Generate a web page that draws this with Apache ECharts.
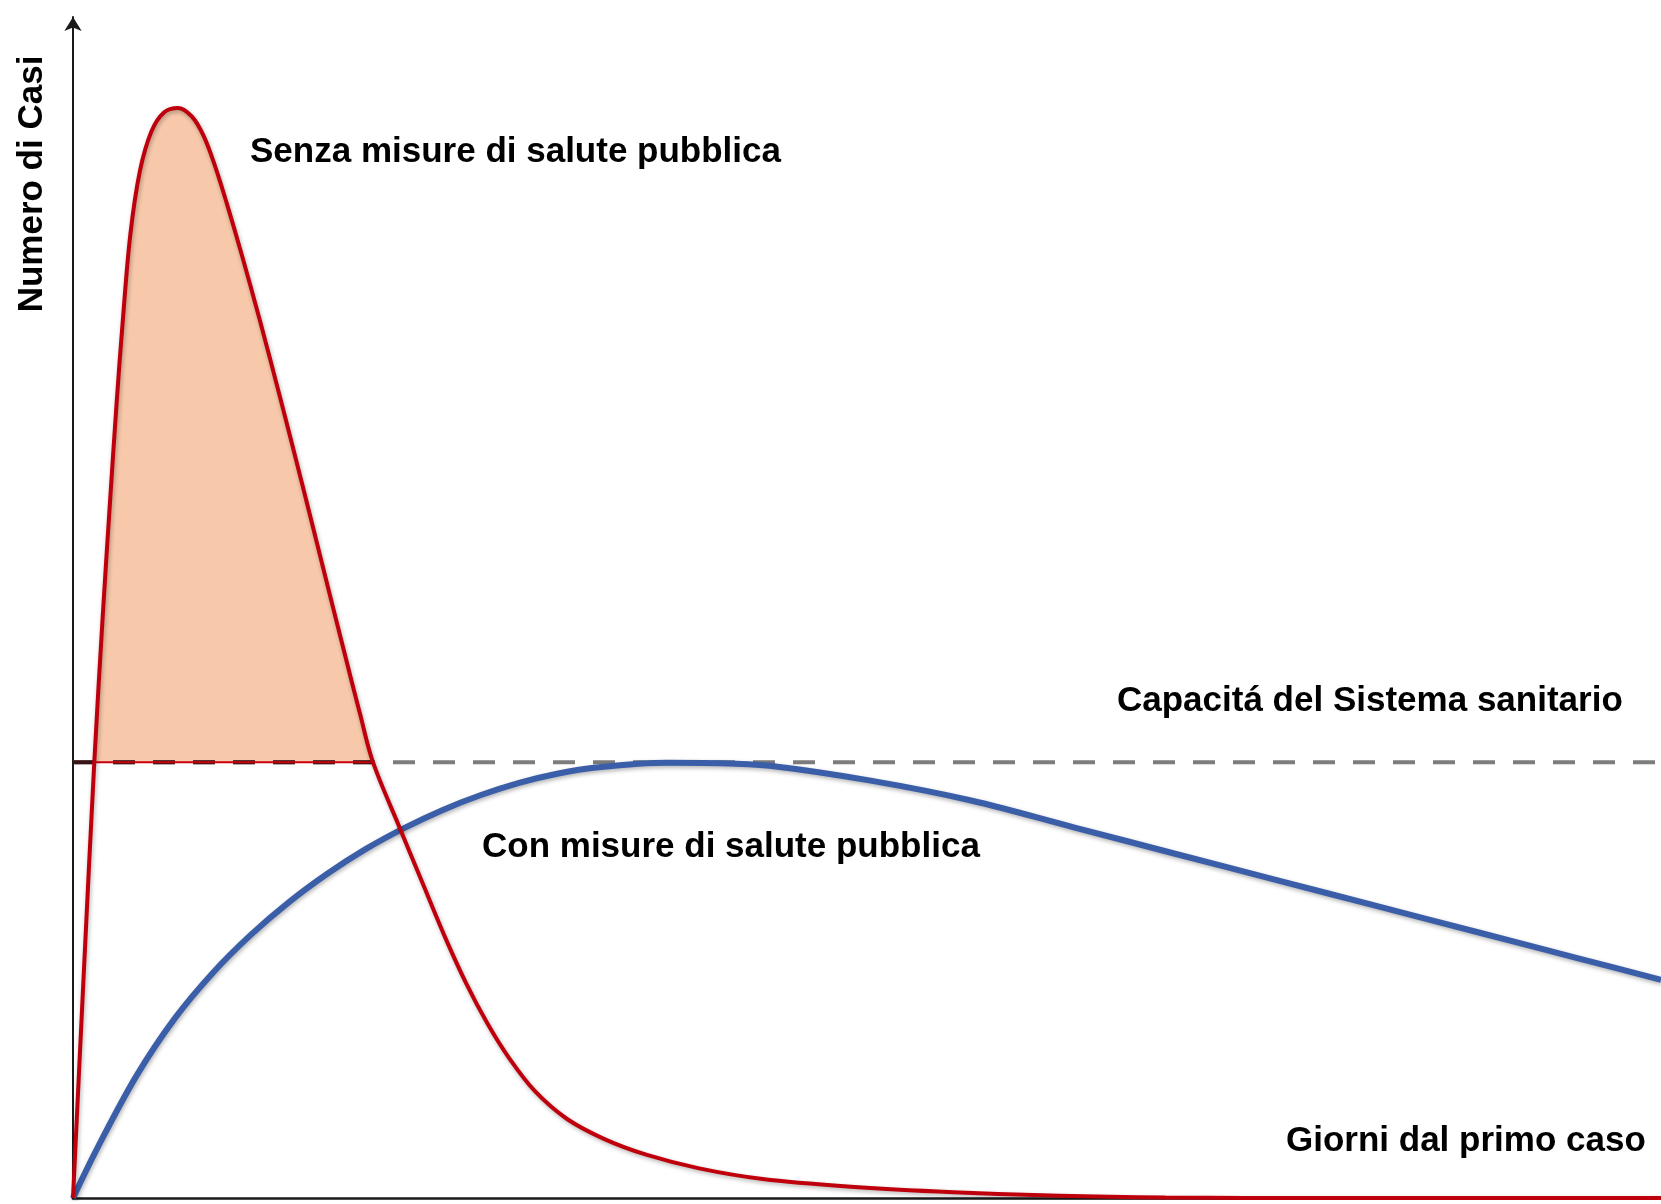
<!DOCTYPE html>
<html>
<head>
<meta charset="utf-8">
<script src="https://cdn.jsdelivr.net/npm/echarts@6/dist/echarts.min.js"></script>
<style>
  html, body { margin: 0; padding: 0; background: #fff; }
  #chart { width: 1661px; height: 1204px; }
</style>
</head>
<body>
<div id="chart"></div>
<script>
// ---- data (x: giorni, 0-100; y: numero di casi, 0-100) ----
const capacity = 36.9;

const senzaMisure = [
  [0, 0], [0.674, 18.89], [1.341, 36.9], [1.875, 49.33], [2.342, 59.18],
  [2.742, 67.23], [3.142, 74.40], [3.609, 81.56], [4.209, 86.93], [4.943, 90.33],
  [5.744, 91.94], [6.611, 92.30], [7.478, 91.58], [8.212, 89.97], [8.946, 87.38],
  [9.680, 84.24], [10.61, 79.95], [11.75, 74.40], [13.08, 67.59], [14.42, 60.52],
  [15.75, 53.36], [17.09, 46.19], [18.09, 40.91], [18.89, 36.9], [20.55, 31.42],
  [22.09, 26.41], [23.42, 22.11], [24.76, 18.17], [26.10, 14.77], [27.43, 11.91],
  [29.09, 9.04], [31.09, 6.71], [33.43, 5.01], [36.09, 3.67], [39.43, 2.51],
  [43.43, 1.61], [48.77, 0.98], [55.44, 0.49], [62.11, 0.18], [68.78, 0.04],
  [78.78, 0], [100, 0]
];

const conMisure = [
  [0, 0], [1.574, 4.33], [4.003, 10.36], [6.411, 15.21], [8.813, 19.08],
  [11.21, 22.30], [13.64, 25.10], [16.06, 27.50], [18.45, 29.56], [20.85, 31.32],
  [23.29, 32.86], [25.69, 34.12], [28.09, 35.15], [30.49, 35.92], [32.93, 36.45],
  [37.43, 36.85], [40.77, 36.82], [43.86, 36.60], [50.23, 35.34], [56.62, 33.64],
  [63.02, 31.39], [69.40, 29.15], [75.80, 26.92], [82.19, 24.69], [88.59, 22.46],
  [94.97, 20.23], [100, 18.48]
];

const labelSenza = 'Senza misure di salute pubblica';
const labelCon = 'Con misure di salute pubblica';
const labelCapacita = 'Capacitá del Sistema sanitario';
const labelAsseX = 'Giorni dal primo caso';
const labelAsseY = 'Numero di Casi';

// ---- derived ----
const overCapacity = senzaMisure.filter(p => p[1] >= capacity);
const capRange = [[overCapacity[0][0], capacity], [overCapacity[overCapacity.length - 1][0], capacity]];

const FONT = 'bold 35px "Liberation Sans", Arial, Helvetica, sans-serif';

const chart = echarts.init(document.getElementById('chart'), null, { renderer: 'canvas' });

const option = {
  animation: false,
  backgroundColor: '#ffffff',
  grid: { left: 73, right: 0, top: 17, bottom: 6, outerBoundsMode: 'none' },
  xAxis: {
    type: 'value', min: 0, max: 100,
    axisLine: { show: true, onZero: false, lineStyle: { color: '#1a1a1a', width: 2.5 } },
    axisTick: { show: false }, axisLabel: { show: false }, splitLine: { show: false }
  },
  yAxis: {
    type: 'value', min: 0, max: 100,
    axisLine: {
      show: true, onZero: false, symbol: ['none', 'arrow'], symbolSize: [13, 14],
      lineStyle: { color: '#1a1a1a', width: 2 }
    },
    axisTick: { show: false }, axisLabel: { show: false }, splitLine: { show: false }
  },
  series: [
    {
      type: 'custom',
      name: 'eccesso',
      z: 1,
      silent: true,
      data: [[0, 0]],
      encode: { x: 0, y: 1 },
      renderItem: function (params, api) {
        const pts = overCapacity.map(p => api.coord(p));
        return { type: 'polygon', shape: { points: pts, smooth: 0 }, style: { fill: '#f7c8aa' } };
      }
    },
    {
      type: 'line',
      name: 'capacita',
      z: 2,
      data: [[0, capacity], [100, capacity]],
      showSymbol: false,
      silent: true,
      lineStyle: { color: '#7c7c7c', width: 4, type: [22, 18], dashOffset: 0 }
    },
    {
      type: 'line',
      name: 'capacita-dentro',
      z: 3,
      data: [[0, capacity], capRange[1]],
      showSymbol: false,
      silent: true,
      lineStyle: { color: '#3a1414', width: 4, type: [22, 18], dashOffset: 0 }
    },
    {
      type: 'line',
      name: 'bordo',
      z: 4,
      data: capRange,
      showSymbol: false,
      silent: true,
      lineStyle: { color: '#c8000c', width: 2 }
    },
    {
      type: 'line',
      name: labelCon,
      z: 5,
      data: conMisure,
      smooth: 0.35,
      showSymbol: false,
      silent: true,
      lineStyle: {
        color: '#3b5ea8', width: 6,
        shadowColor: 'rgba(0,0,0,0.3)', shadowBlur: 4, shadowOffsetX: 1, shadowOffsetY: 2
      }
    },
    {
      type: 'line',
      name: labelSenza,
      z: 6,
      data: senzaMisure,
      smooth: 0.35,
      showSymbol: false,
      silent: true,
      lineStyle: {
        color: '#bf000c', width: 4,
        shadowColor: 'rgba(0,0,0,0.3)', shadowBlur: 4, shadowOffsetX: 1, shadowOffsetY: 2
      }
    }
  ],
  graphic: [
    { type: 'text', x: 250, y: 152, z: 100,
      style: { text: labelSenza, font: FONT, fill: '#000', align: 'left', verticalAlign: 'middle' } },
    { type: 'text', x: 482, y: 847, z: 100,
      style: { text: labelCon, font: FONT, fill: '#000', align: 'left', verticalAlign: 'middle' } },
    { type: 'text', x: 1117, y: 701, z: 100,
      style: { text: labelCapacita, font: FONT, fill: '#000', align: 'left', verticalAlign: 'middle' } },
    { type: 'text', x: 1286, y: 1141, z: 100,
      style: { text: labelAsseX, font: FONT, fill: '#000', align: 'left', verticalAlign: 'middle' } },
    { type: 'text', x: 32, y: 184, z: 100, rotation: Math.PI / 2,
      style: { text: labelAsseY, font: FONT, fill: '#000', align: 'center', verticalAlign: 'middle' } }
  ]
};

chart.setOption(option);
</script>
</body>
</html>
